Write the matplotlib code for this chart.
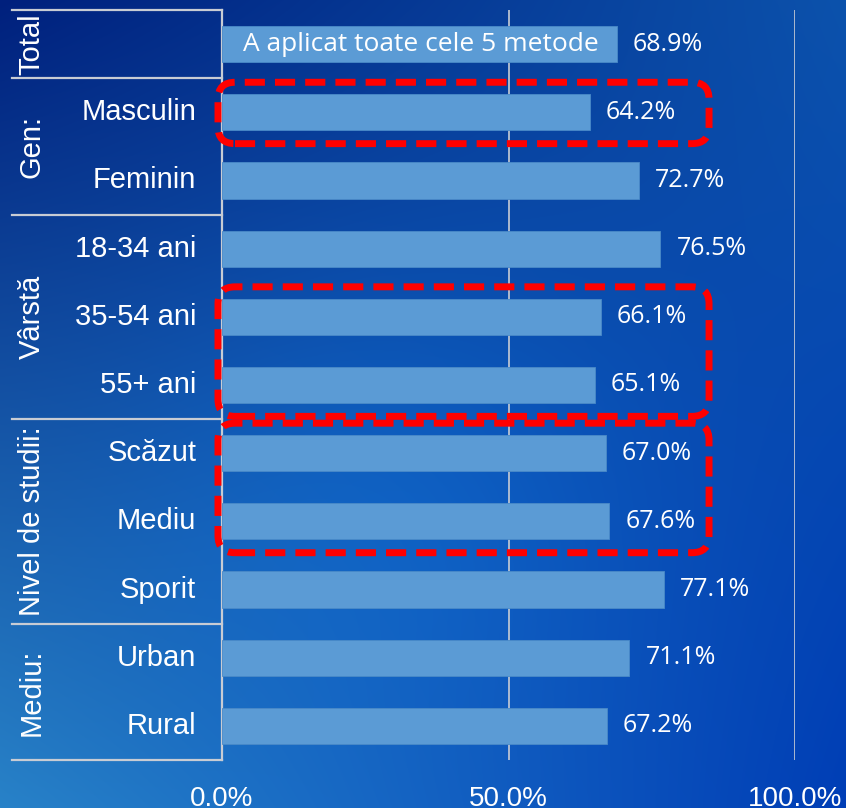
import numpy as np
import matplotlib.pyplot as plt
from matplotlib.patches import FancyBboxPatch
from matplotlib.transforms import IdentityTransform, blended_transform_factory

categories = ["", "Masculin", "Feminin", "18-34 ani", "35-54 ani", "55+ ani",
              "Scăzut", "Mediu", "Sporit", "Urban", "Rural"]
values = [68.9, 64.2, 72.7, 76.5, 66.1, 65.1, 67.0, 67.6, 77.1, 71.1, 67.2]
group_names = ["Total", "Gen:", "Vârstă", "Nivel de studii:", "Mediu:"]
group_first = [0, 1, 3, 6, 9]
group_last = [0, 2, 5, 8, 10]
total_note = "A aplicat toate cele 5 metode"
highlight_first = [1, 4, 6]
highlight_last = [1, 5, 7]
xticks = [0, 50, 100]

W, H = 846, 808
fig = plt.figure(figsize=(W / 100, H / 100), dpi=100)

# background gradient
bg = fig.add_axes([0, 0, 1, 1], zorder=-5)
yy, xx = np.mgrid[0:1:H * 1j, 0:1:W * 1j]
tl = np.array([0, 32, 125]); tr = np.array([12, 82, 172])
bl = np.array([40, 130, 200]); br = np.array([0, 62, 182])
img = ((1 - xx)[..., None] * (1 - yy)[..., None] * tl + xx[..., None] * (1 - yy)[..., None] * tr
       + (1 - xx)[..., None] * yy[..., None] * bl + xx[..., None] * yy[..., None] * br)
blob = np.exp(-(((xx - 0.45) / 0.3) ** 2 + ((yy - 0.6) / 0.3) ** 2))
img = img + blob[..., None] * np.array([0, 15, 20])
bg.imshow(np.clip(img, 0, 255).astype(np.uint8), aspect="auto")
bg.axis("off")

ax = fig.add_axes([222 / W, 1 - 760 / H, 573 / W, 750 / H])
ax.set_facecolor("none")
n = len(values)
y = np.arange(n)
ax.barh(y, values, height=0.53, color="#5b9bd5", edgecolor="#4a8ac8", lw=0.6, zorder=3)
ax.set_xlim(0, 100)
ax.set_ylim(n - 0.5, -0.5)

ax.set_xticks(xticks)
ax.set_xticklabels([f"{t:.1f}%" for t in xticks], fontsize=20, color="white",
                   fontfamily="Liberation Sans")
ax.tick_params(axis="x", length=0, pad=19)
ax.set_yticks([])
for s in ["top", "right", "bottom"]:
    ax.spines[s].set_visible(False)
ax.spines["left"].set_color("#c8ccd4")
ax.spines["left"].set_linewidth(1.6)
for t in xticks[1:]:
    ax.axvline(t, color="#c8ccd4", lw=1.2, zorder=1)

for i, v in enumerate(values):
    ax.text(v + 2.8, i, f"{v:.1f}%", va="center", ha="left", color="white",
            fontsize=18, fontfamily="Open Sans")
ax.text(3.6, 0, total_note, va="center", ha="left", color="white",
        fontsize=19, fontfamily="Open Sans", zorder=4)

# table on the left
tr_ax = blended_transform_factory(ax.transAxes, ax.transData)
for i, c in enumerate(categories):
    ax.text(-0.045, i, c, transform=tr_ax, ha="right", va="center",
            color="white", fontsize=21, fontfamily="Liberation Sans")
bounds = [-0.5] + [g + 0.5 for g in group_last]
for b in bounds:
    ax.plot([-0.366, 0], [b, b], transform=tr_ax, color="#c8ccd4", lw=1.6,
            clip_on=False)
for name, a, b in zip(group_names, group_first, group_last):
    ax.text(-0.332, (a + b) / 2, name, transform=tr_ax, rotation=90,
            ha="center", va="center", color="white", fontsize=21,
            fontfamily="Liberation Sans")

# red dashed highlight boxes (drawn in pixel space)
for a, b in zip(highlight_first, highlight_last):
    x0, y0 = ax.transData.transform((-0.7, b + 0.46))
    x1, y1 = ax.transData.transform((85.0, a - 0.44))
    box = FancyBboxPatch((x0, y0), x1 - x0, y1 - y0,
                         boxstyle="round,pad=0,rounding_size=17",
                         transform=IdentityTransform(), fill=False,
                         edgecolor="#ff0000", lw=5, linestyle=(0, (2.9, 1.45)),
                         zorder=10)
    fig.add_artist(box)

fig.savefig("out.png", dpi=100)
